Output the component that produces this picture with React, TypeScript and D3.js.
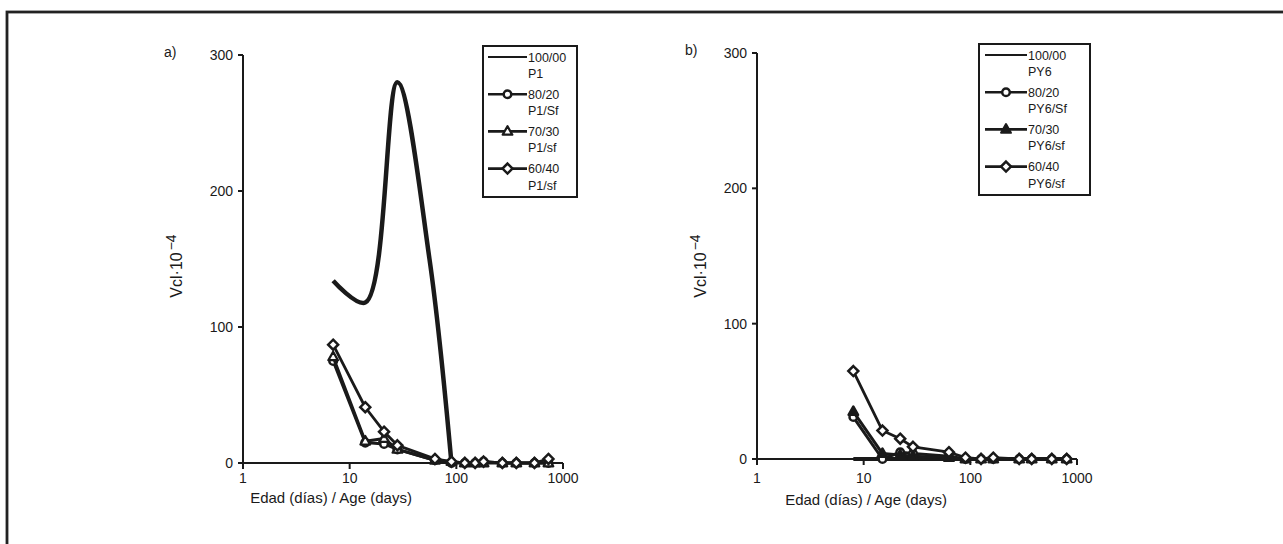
import React from 'react';
import * as d3 from 'd3';

// ages (days) and Vcl·10^-4 values
const daysA = [7, 14, 21, 28, 63, 90, 120, 150, 180, 270, 365, 540, 730];
const p1_100Days = [7, 14, 28, 56, 90];
const p1_100 = [134, 118, 280, 150, 0];
const p1_80 = [75, 15, 14, 10, 2, 0, 0, 0, 1, 0, 0, 0, 0];
const p1_70 = [78, 16, 18, 10, 2, 1, 0, 0, 0, 0, 0, 0, 0];
const p1_60 = [87, 41, 23, 13, 3, 1, 0, 0, 1, 0, 0, 0, 3];

const daysB = [8, 15, 22, 29, 63, 90, 126, 164, 287, 376, 580, 800];
const py6_100 = [0, 0, 0, 0, 0, 0, 0, 0, 0, 0, 0, 0];
const py6_80 = [31, 0, 5, 4, 2, 0, 0, 0, 0, 0, 0, 0];
const py6_70 = [35, 4, 3, 2, 1, 0, 0, 0, 0, 0, 0, 0];
const py6_60 = [65, 21, 15, 9, 5, 1, 0, 1, 0, 0, 0, 0];

const yTicks = [0, 100, 200, 300];
const xTicks = [1, 10, 100, 1000];
const legendA = [['100/00', 'P1'], ['80/20', 'P1/Sf'], ['70/30', 'P1/sf'], ['60/40', 'P1/sf']];
const legendB = [['100/00', 'PY6'], ['80/20', 'PY6/Sf'], ['70/30', 'PY6/sf'], ['60/40', 'PY6/sf']];

const FONT = '"Liberation Sans", Arial, sans-serif';
const INK = '#1a1a1a';

function Marker({ kind, x, y, filled = false }) {
  if (kind === 'circle')
    return <circle cx={x} cy={y} r={3.8} fill="#fff" stroke={INK} strokeWidth={2.5} />;
  if (kind === 'tri')
    return <path d={`M${x},${y - 5.2}L${x + 4.8},${y + 3.3}L${x - 4.8},${y + 3.3}Z`}
      fill={filled ? INK : '#fff'} stroke={INK} strokeWidth={2.3} strokeLinejoin="round" />;
  if (kind === 'diamond')
    return <path d={`M${x},${y - 5}L${x + 5},${y}L${x},${y + 5}L${x - 5},${y}Z`}
      fill="#fff" stroke={INK} strokeWidth={2.5} />;
  return null;
}

function Panel({ label, x0, x1, y0, y1, series, legend, legendBox, labelX, titleX, titleY, yTitleX, triFilled }) {
  const x = d3.scaleLog().domain([1, 1000]).range([x0, x1]);
  const y = d3.scaleLinear().domain([0, 300]).range([y0, y1]);
  const smooth = d3.line<[number, number]>().x(d => x(d[0])).y(d => y(d[1])).curve(d3.curveCatmullRom.alpha(0.5));
  const straight = d3.line<[number, number]>().x(d => x(d[0])).y(d => y(d[1]));
  const kinds = [null, 'circle', 'tri', 'diamond'];
  const lb = legendBox;

  return (
    <g fontFamily={FONT} fill={INK}>
      <text x={labelX} y={y1 + 2} fontSize={14}>{label}</text>
      {/* axes */}
      <line x1={x0} x2={x0} y1={y0} y2={y1} stroke={INK} strokeWidth={2} />
      <line x1={x0} x2={x1} y1={y0} y2={y0} stroke={INK} strokeWidth={2} />
      {yTicks.map(t => (
        <g key={'y' + t}>
          <line x1={x0 - 5} x2={x0} y1={y(t)} y2={y(t)} stroke={INK} strokeWidth={2} />
          <text x={x0 - 10} y={y(t) + 5} fontSize={14} textAnchor="end">{t}</text>
        </g>
      ))}
      {xTicks.map(t => (
        <g key={'x' + t}>
          <line x1={x(t)} x2={x(t)} y1={y0} y2={y0 + 6} stroke={INK} strokeWidth={2} />
          <text x={x(t)} y={483} fontSize={14} textAnchor="middle">{t}</text>
        </g>
      ))}
      <text x={titleX} y={titleY} fontSize={15} textAnchor="middle">Edad (días) / Age (days)</text>
      <text transform={`translate(${yTitleX},${266}) rotate(-90)`} fontSize={16} textAnchor="middle">
        Vcl·10<tspan fontSize={14} dx={2} dy={-6}>−4</tspan>
      </text>

      {/* series */}
      {series.map((s, i) => {
        const pts = s.days.map((d, j) => [d, s.values[j]] as [number, number]);
        return (
          <g key={i}>
            <path d={(s.smooth ? smooth : straight)(pts) || ''} fill="none" stroke={INK}
              strokeWidth={s.width} strokeLinejoin="round" />
            {kinds[i] && pts.map((p, j) => (
              <Marker key={j} kind={kinds[i]} x={x(p[0])} y={y(p[1])} filled={triFilled} />
            ))}
          </g>
        );
      })}

      {/* legend */}
      <rect x={lb.x} y={lb.y} width={lb.w} height={lb.h} fill="#fff" stroke={INK} strokeWidth={2} />
      {legend.map((l, i) => {
        const ly = lb.y + 11 + i * 37.2;
        return (
          <g key={i}>
            <line x1={lb.x + lb.l0} x2={lb.x + lb.l1} y1={ly} y2={ly} stroke={INK} strokeWidth={i === 0 ? 2 : 2.6} />
            {kinds[i] && <Marker kind={kinds[i]} x={lb.x + (lb.l0 + lb.l1) / 2} y={ly} filled={triFilled} />}
            <text x={lb.x + lb.l1 + 1} y={ly + 4.5} fontSize={12.5}>{l[0]}</text>
            <text x={lb.x + lb.l1 + 1} y={ly + 21} fontSize={12.5}>{l[1]}</text>
          </g>
        );
      })}
    </g>
  );
}

export default function App() {
  const seriesA = [
    { days: p1_100Days, values: p1_100, width: 4.5, smooth: true },
    { days: daysA, values: p1_80, width: 3 },
    { days: daysA, values: p1_70, width: 3 },
    { days: daysA, values: p1_60, width: 2.8 },
  ];
  const seriesB = [
    { days: daysB, values: py6_100, width: 4 },
    { days: daysB, values: py6_80, width: 3 },
    { days: daysB, values: py6_70, width: 3 },
    { days: daysB, values: py6_60, width: 2.8 },
  ];
  return (
    <div style={{ position: 'absolute', left: 0, top: 0 }}>
      <svg width={1283} height={544} style={{ display: 'block', background: '#fff' }}>
        <rect x={7} y={12} width={1300} height={560} fill="none" stroke="#222" strokeWidth={2.8} />
        <Panel label="a)" x0={243} x1={563} y0={463} y1={55} series={seriesA} legend={legendA}
          legendBox={{ x: 483, y: 46, w: 94, h: 151, l0: 5, l1: 44 }} labelX={164}
          titleX={331} titleY={503} yTitleX={182} triFilled={false} />
        <Panel label="b)" x0={757} x1={1077} y0={459} y1={53} series={seriesB} legend={legendB}
          legendBox={{ x: 979, y: 44, w: 111, h: 151, l0: 6, l1: 48 }} labelX={685}
          titleX={866} titleY={505} yTitleX={706} triFilled={true} />
      </svg>
    </div>
  );
}
